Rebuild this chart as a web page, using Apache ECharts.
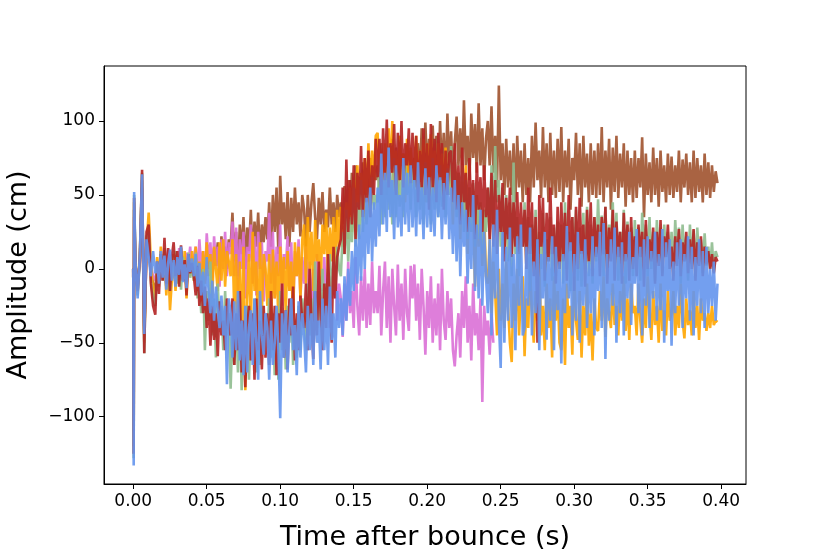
<!DOCTYPE html>
<html><head><meta charset="utf-8">
<script src="https://cdn.jsdelivr.net/npm/echarts@6/dist/echarts.min.js"></script>
<style>html,body{margin:0;padding:0;background:#fff}#c{width:830px;height:554px}</style>
</head><body><div id="c"></div>
<script>
// time grid (s): fine samples around bounce, then regular samples every 1.25 ms
const timeEarly = [0, 0.0003, 0.0006, 0.0015, 0.003, 0.0045, 0.006, 0.0075, 0.009, 0.0105, 0.012, 0.0135, 0.015];
const timeStart = 0.01625, timeStep = 0.00125, timeCount = 306;
const xTicks = [0, 0.05, 0.10, 0.15, 0.20, 0.25, 0.30, 0.35, 0.40];
const yTicks = [-100, -50, 0, 50, 100];

const seriesNames = ['sienna', 'orchid', 'orange', 'darkseagreen', 'firebrick', 'cornflowerblue'];
const seriesColors = ['#A0522D', '#DA70D6', '#FFA500', '#8FBC8F', '#B22222', '#6495ED'];

const sienna = [0, -110, 40, 0, -10, 5, 55, -45, 10, 25, 0, -10, -15,
  2, -8, 10, -5, 6, -12, 4, 9, -6, 3, -10, 8, -3, 12, -7, 5, -11, 7, 0, 4,
  -5, 8, -10, 3, -15, 5, -8, 12, 0, 10, -6, 14, 2, 18, -4, 22, 5, 15, 0, 20,
  15, 38, 5, 25, -5, 30, 10, 35, 0, 28, 12, 40, 5, 32, 15, 38, 8, 30, 18, 35,
  20, 45, 15, 50, 25, 55, 10, 63, 30, 45, 20, 52, 15, 48, 25, 55, 30, 45, 22, 50,
  40, 15, 50, 25, 45, 58, 35, 20, 48, 30, 52, 25, 40, 28, 55, 30, 45, 25, 50, 35,
  45, 30, 56, 40, 60, 35, 65, 45, 70, 50, 62, 40, 72, 48, 68, 50, 75, 55, 70, 60,
  70, 55, 85, 60, 78, 50, 80, 65, 88, 58, 82, 55, 90, 60, 78, 52, 85, 62, 80, 58,
  75, 55, 85, 60, 95, 70, 99, 65, 88, 60, 97, 62, 90, 55, 100, 65, 92, 58, 105, 68,
  93, 60, 85, 103, 70, 95, 65, 114, 70, 90, 60, 105, 75, 98, 65, 112, 70, 95, 60, 88,
  100, 70, 110, 65, 90, 55, 124, 60, 85, 50, 88, 55, 80, 50, 85, 45, 90, 55, 80, 45,
  85, 50, 75, 45, 90, 55, 99, 60, 80, 48, 96, 55, 85, 45, 92, 50, 80, 48, 88, 52,
  96, 45, 80, 55, 88, 40, 75, 60, 92, 50, 85, 42, 90, 55, 78, 45, 85, 50, 80, 48,
  85, 50, 96, 45, 80, 55, 88, 40, 82, 52, 90, 48, 78, 55, 85, 42, 80, 50, 75, 45,
  80, 48, 75, 55, 89, 35, 78, 50, 72, 45, 82, 50, 75, 42, 80, 52, 70, 45, 78, 50,
  76, 48, 70, 52, 80, 45, 74, 55, 78, 50, 72, 45, 80, 48, 75, 52, 70, 45, 78, 50,
  72, 48, 70, 52, 66, 58];

const orchid = [0, -100, 35, 2, -8, 4, 50, -40, 8, 20, 2, -5, -8,
  5, -3, 12, 0, 8, -6, 13, 2, 10, -4, 9, -5, 14, 0, 6, -8, 11, 3, 15, -2,
  8, 15, -5, 20, 0, 12, -10, 24, 5, 18, -8, 22, 2, 15, -12, 20, 0, 25, -5, 18,
  10, 32, -5, 28, -15, 20, 0, 25, -20, 15, 5, 30, -10, 22, -18, 25, 0, 18, -22, 12,
  5, 38, -10, 25, -20, 15, -5, 30, -25, 10, 0, 22, -15, 18, -28, 12, -5, 20, -20, 8,
  -10, 15, -20, 5, -30, 0, -25, 10, -35, -5, -15, 8, -30, 0, -40, -5, -20, 5, -35, -10,
  -20, -46, -10, -35, 5, -30, -15, -40, 8, -25, -45, -5, -35, 0, -40, -10, -38, 5, -30, -15,
  -30, 2, -45, -15, 5, -40, -5, -50, 0, -25, -45, 3, -35, -10, -48, 0, -30, -42, 2, -20,
  3, -35, -10, -48, 0, -25, -58, -15, -40, -5, -50, -20, -45, -10, -55, 0, -35, -48, -15, -40,
  -20, -55, -66, -45, -30, -60, -15, -40, -5, -50, -25, -62, -10, -45, -30, -55, -20, -90, -25, -45,
  -35, -58, -30, -50];

const orange = [0, -120, 45, 2, -12, 10, 60, -50, 15, 38, 5, -15, -20,
  8, -10, 15, -5, 12, -18, 6, -28, -8, 10, -15, 5, -10, 14, -6, 12, -20, 8, -5, 12,
  -8, 15, -15, 5, -22, 12, -10, 18, -5, 10, -20, 15, 0, -15, 18, -8, 20, -12, 12, 5,
  -5, 20, -30, 10, -45, 5, -60, 15, -82, -20, 10, -40, 25, -15, 5, -50, 18, -30, 10, 0,
  -25, 10, -40, 13, -20, 5, -35, 15, -10, 8, -30, 12, -15, 5, -35, 18, -5, 15, -20, 20,
  30, -10, 35, 0, 25, -15, 33, 5, 20, -10, 30, 10, 38, -5, 28, 5, 35, 0, 40, 15,
  42, 15, 30, 45, 20, 55, 25, 60, 35, 70, 40, 65, 45, 75, 50, 85, 55, 80, 60, 90,
  92, 60, 75, 50, 85, 55, 95, 65, 100, 55, 80, 50, 90, 60, 78, 45, 88, 55, 82, 60,
  70, 90, 50, 80, 60, 88, 45, 85, 55, 91, 60, 80, 48, 85, 55, 78, 45, 82, 50, 70,
  60, 30, 72, 40, 65, 20, 59, 35, 70, 10, 55, 25, 45, -12, 50, 15, 35, 2, 40, -5,
  -10, 20, -30, 5, -16, -45, 0, -35, -10, -40, 5, -25, -50, -63, -10, -35, 0, -45, -15, -5,
  -59, -20, -40, 0, -30, -50, -15, -35, 5, -45, -25, -55, -10, -40, -20, -60, -5, -35, -15, -50,
  -55, -20, -65, -10, -40, -25, -58, -5, -35, -48, -15, -60, -25, -45, -10, -52, -30, -62, -20, -40,
  -42, -15, -35, -5, -46, -20, -30, -40, -10, -38, -25, -45, -15, -35, -5, -42, -20, -48, -10, -30,
  -25, -45, -10, -35, -50, -20, -40, -5, -30, -48, -15, -38, -25, -50, -10, -42, -28, -45, -15, -35,
  -30, -15, -45, -25, -40, -10, -35, -47, -20, -38, -28, -45, -15, -40, -25, -48, -20, -35, -30, -42,
  -30, -40, -25, -38, -35, -36];

const darkseagreen = [0, -128, 50, 4, -18, 6, 65, -57, 22, 25, -8, -20, -25,
  3, -12, 10, -8, 14, -3, 6, -15, 9, -2, 12, -10, 5, -14, 8, 0, -12, 11, -6, 4,
  -8, 11, -20, -5, -30, 0, -55, -15, -35, 5, -45, -20, -60, -10, -40, -25, -55, -15, -45, -30,
  -81, -40, -65, -30, -70, -20, -82, -45, -60, -25, -75, -35, -55, -20, -70, -40, -65, -25, -55, -35,
  -45, -20, -60, -30, -72, -35, -75, -15, -55, -30, -68, -25, -50, -20, -65, -35, -60, -25, -55, -20,
  -35, -55, -10, -45, -20, -50, 5, -40, -15, -35, 0, -30, -10, -25, 10, -20, 5, -15, 15, 0,
  -5, 25, 10, 40, 5, 35, 18, 55, 15, 45, 20, 60, 25, 50, 30, 55, 35, 62, 40, 50,
  45, 70, 30, 60, 35, 72, 40, 65, 30, 75, 35, 68, 42, 60, 35, 72, 50, 65, 40, 72,
  55, 35, 70, 40, 62, 30, 72, 45, 60, 30, 75, 40, 65, 35, 70, 42, 62, 35, 68, 50,
  83, 45, 74, 35, 65, 30, 70, 25, 60, 20, 55, 25, 58, 15, 50, 20, 45, 10, 40, 25,
  55, 20, 70, 30, 83, 45, 60, 15, 55, 10, 50, 5, 45, -5, 72, 10, 35, -5, 30, 15,
  45, 0, 35, -15, 30, 5, 40, -10, 25, 0, 38, -12, 20, 5, 35, -8, 28, -5, 32, 0,
  30, -10, 45, 0, 25, -15, 35, 5, 40, -8, 28, -12, 38, 0, 42, -5, 30, -10, 35, 5,
  47, 10, 36, -5, 42, 0, 30, 15, 45, 0, 38, -8, 25, 5, 40, -10, 32, 5, 28, -5,
  33, 5, 28, -8, 38, 10, 30, -5, 35, 0, 25, -8, 33, 5, 28, -3, 30, 8, 25, 0,
  25, -5, 33, 8, 28, -10, 30, 5, 22, -8, 30, 3, 26, -5, 28, 5, 20, -3, 24, 2,
  15, 0, 18, -2, 12, 8];

const firebrick = [0, -125, 48, 3, -15, 8, 67, -57, 25, 30, -10, -25, -31,
  5, -17, 10, -8, 21, -10, 14, -15, 8, 18, -5, 12, -12, 16, -8, 6, -18, 10, -3, 4,
  -5, -18, 2, -25, -8, -30, -12, -40, -20, -52, -25, -48, -30, -59, -22, -45, -35, -55, -20, -40,
  -45, -20, -65, -30, -55, -15, -70, -35, -80, -40, -25, -62, -30, -75, -20, -55, -35, -68, -25, -60,
  -30, -65, -15, -55, -25, -72, -30, -50, -10, -60, -28, -68, -20, -45, -12, -62, -30, -55, -18, -35,
  -40, -10, -55, 0, -35, -61, -15, -45, 5, -30, -55, -10, -40, 10, -25, -50, 15, -20, 8, 15,
  20, 55, 10, 74, 25, 60, 30, 70, 20, 65, 40, 83, 35, 75, 45, 80, 35, 70, 50, 88,
  62, 88, 50, 95, 60, 101, 55, 85, 65, 98, 50, 92, 60, 100, 55, 85, 70, 95, 58, 92,
  60, 90, 45, 80, 55, 95, 50, 85, 40, 98, 55, 88, 45, 92, 60, 85, 40, 80, 50, 78,
  80, 45, 85, 40, 70, 30, 82, 45, 65, 25, 75, 35, 60, 20, 72, 40, 62, 25, 70, 35,
  55, 20, 65, 15, 60, 10, 50, 25, 58, 5, 48, 20, 55, 8, 45, 15, 52, 10, 45, 15,
  40, 0, 55, 10, 45, -5, 35, -50, 50, 15, 48, -8, 38, 5, 55, 10, 30, -10, 42, 0,
  45, 5, 38, -8, 50, 12, 35, -15, 42, 0, 48, 10, 30, -12, 40, 5, 45, -5, 35, 8,
  30, -5, 35, 10, 42, -10, 28, 5, 40, -8, 32, 8, 25, -10, 38, 5, 30, -8, 35, 0,
  22, -5, 30, 8, 25, -12, 33, 0, 20, 5, 28, -10, 25, 2, 33, -5, 22, 8, 30, 0,
  15, -8, 22, 2, 27, -5, 18, 5, 25, -3, 20, 0, 27, -8, 18, 2, 22, -5, 15, 3,
  12, 0, 10, -3, 8, 5];

const cornflowerblue = [0, -133, 52, 5, -20, 10, 64, -44, 20, 8, -5, 12, -3,
  5, -10, 12, -6, 9, -14, 4, 13, -8, 6, -12, 8, -4, 15, -9, 3, -13, 10, -2, 7,
  -5, 10, -12, 4, -18, -2, -25, 8, -15, -30, -8, -35, -12, -28, -40, -18, -45, -25, -78, -20,
  -30, -60, -22, -55, -15, -62, -35, -72, -25, -70, -40, -28, -65, -20, -50, -75, -15, -45, -58, -30,
  -40, -75, -35, -65, -50, -25, -55, -101, -30, -60, -28, -70, -40, -20, -55, -38, -72, -22, -60, -30,
  -45, -70, -25, -55, -30, -65, -15, -50, -35, -68, -20, -55, -25, -65, -12, -48, -30, -60, -15, -40,
  -20, -45, -5, -35, 0, -25, 12, -15, 20, -10, 30, -8, 40, 0, 48, 10, 55, 5, 45, 15,
  55, 22, 78, 30, 65, 25, 82, 35, 60, 20, 70, 28, 50, 22, 75, 30, 65, 25, 70, 28,
  60, 22, 72, 30, 55, 20, 68, 28, 62, 25, 55, 22, 70, 35, 62, 20, 58, 30, 65, 20,
  55, 10, 60, 5, 50, -5, 45, 15, 40, -10, 35, 0, 50, -15, 30, -20, 40, -25, 25, -5,
  -30, 20, -45, 30, -20, 40, -35, -67, 25, -50, 15, -35, 28, -40, 10, -55, 22, -25, 30, -45,
  -40, 15, -25, 28, -45, 5, -30, 20, -55, 10, -20, 25, -48, 8, -35, 22, -55, 15, -28, 5,
  -64, 10, -30, 29, -20, 18, -45, 10, -35, 25, -50, 12, -25, 20, -40, 5, -30, 22, -45, 15,
  -15, 25, -40, 31, -61, 10, -35, 20, -25, 28, -50, 15, -30, 18, -45, 10, -20, 25, -38, 8,
  -10, 27, -30, 15, -45, 20, -25, 22, -40, 12, -20, 25, -35, 10, -28, 27, -50, 18, -15, 20,
  -52, 5, -30, 18, -25, 20, -40, 10, -20, 22, -35, 15, -45, 8, -25, 20, -30, 12, -40, 15,
  -30, 0, -25, 5, -35, -10];

const time = timeEarly.concat(Array.from({length: timeCount}, (_, i) => +(timeStart + i * timeStep).toFixed(5)));
const allValues = [sienna, orchid, orange, darkseagreen, firebrick, cornflowerblue];

const FONT = 'DejaVu Sans';
const chart = echarts.init(document.getElementById('c'), null, {renderer: 'canvas'});
chart.setOption({
  animation: false,
  backgroundColor: '#fff',
  grid: {left: 104, right: 84, top: 66, bottom: 70, show: true, borderColor: '#000', borderWidth: 1,
         containLabel: false, outerBoundsMode: 'none'},
  xAxis: {
    type: 'value', min: -0.0199, max: 0.4169,
    axisLine: {show: true, onZero: false, lineStyle: {color: '#000', width: 1}},
    splitLine: {show: false},
    axisTick: {show: true, customValues: xTicks, length: 5, lineStyle: {color: '#000', width: 1}},
    axisLabel: {customValues: xTicks, formatter: v => v.toFixed(2), color: '#000', fontSize: 17, fontFamily: FONT, margin: 9},
    name: 'Time after bounce (s)', nameLocation: 'middle', nameGap: 40,
    nameTextStyle: {fontSize: 27, fontFamily: FONT, color: '#000'}
  },
  yAxis: {
    type: 'value', min: -145.5, max: 137.2,
    axisLine: {show: true, onZero: false, lineStyle: {color: '#000', width: 1}},
    splitLine: {show: false},
    axisTick: {show: true, customValues: yTicks, length: 5, lineStyle: {color: '#000', width: 1}},
    axisLabel: {customValues: yTicks, formatter: v => String(v).replace('-', '\u2212'), color: '#000', fontSize: 17, fontFamily: FONT, margin: 9},
    name: 'Amplitude (cm)', nameLocation: 'middle', nameGap: 72,
    nameTextStyle: {fontSize: 27, fontFamily: FONT, color: '#000'}
  },
  series: allValues.map((vals, k) => ({
    type: 'line', name: seriesNames[k], showSymbol: false, symbol: 'none',
    data: vals.map((v, i) => [time[i], v]),
    lineStyle: {color: seriesColors[k], width: 2.6, opacity: 0.9},
    itemStyle: {color: seriesColors[k]},
    clip: true
  }))
});
</script></body></html>
